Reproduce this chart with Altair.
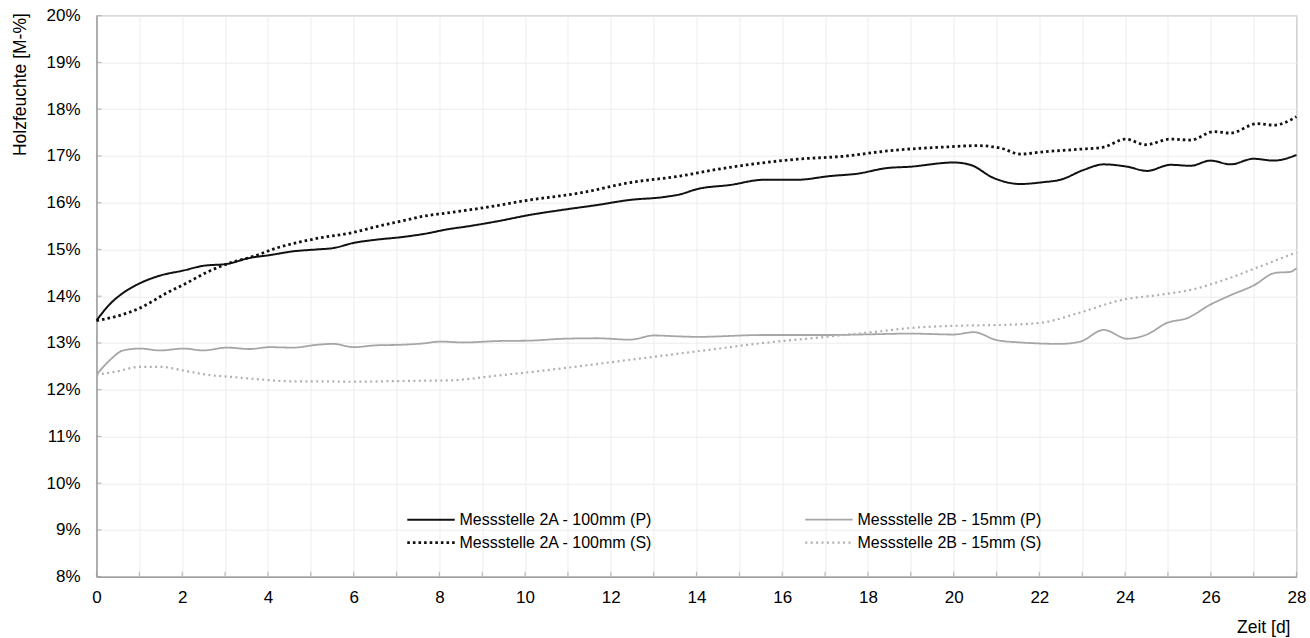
import altair as alt
import pandas as pd

# ---- data ----
series_names = [
    "Messstelle 2A - 100mm (P)",
    "Messstelle 2B - 15mm (P)",
    "Messstelle 2A - 100mm (S)",
    "Messstelle 2B - 15mm (S)",
]

a_p_day = [0, 0.3, 0.62, 1.02, 1.48, 2.03, 2.49, 3.04, 3.58, 4.05, 4.59, 5.14, 5.53, 6.0, 6.54,
           7.08, 7.63, 8.25, 8.56, 9.34, 10.12, 10.9, 11.68, 12.45, 13.23, 13.62, 14.01, 14.79,
           15.57, 16.34, 17.12, 17.75, 18.44, 18.99, 20.0, 20.39, 20.93, 21.56, 22.1, 22.49,
           23.03, 23.5, 24.05, 24.51, 25.06, 25.53, 25.99, 26.46, 27.0, 27.47, 28.0]
a_p_val = [13.48, 13.82, 14.07, 14.28, 14.44, 14.55, 14.65, 14.69, 14.82, 14.88, 14.96, 15.0, 15.03,
           15.14, 15.21, 15.26, 15.33, 15.44, 15.48, 15.6, 15.74, 15.85, 15.95, 16.06, 16.12, 16.18,
           16.29, 16.38, 16.49, 16.49, 16.57, 16.62, 16.74, 16.77, 16.86, 16.81, 16.53, 16.4, 16.44,
           16.49, 16.7, 16.82, 16.77, 16.68, 16.81, 16.79, 16.9, 16.82, 16.94, 16.9, 17.02]

a_s_day = [0, 0.47, 1.02, 1.64, 2.1, 2.57, 3.11, 3.66, 4.2, 4.75, 5.29, 5.92, 6.54, 7.08, 7.63,
           8.25, 8.95, 10.12, 11.29, 12.45, 13.62, 14.4, 15.18, 16.34, 17.51, 18.29, 18.6, 19.77,
           20.55, 21.09, 21.56, 22.1, 22.88, 23.5, 24.01, 24.48, 25.06, 25.53, 26.07, 26.46,
           27.08, 27.47, 28.0]
a_s_val = [13.48, 13.57, 13.75, 14.07, 14.28, 14.51, 14.71, 14.85, 15.03, 15.16, 15.26, 15.35,
           15.49, 15.6, 15.71, 15.79, 15.88, 16.06, 16.21, 16.43, 16.57, 16.7, 16.81, 16.93, 17.0,
           17.09, 17.12, 17.19, 17.22, 17.17, 17.04, 17.09, 17.14, 17.19, 17.36, 17.24, 17.36,
           17.34, 17.52, 17.49, 17.69, 17.66, 17.84]

b_p_day = [0, 0.32, 0.62, 1.02, 1.48, 2.03, 2.49, 3.04, 3.58, 4.05, 4.59, 5.14, 5.53, 6.0, 6.54,
           7.08, 7.63, 8.02, 8.56, 9.34, 10.12, 10.9, 11.68, 12.45, 13.0, 13.6, 14.01, 15.57,
           16.34, 17.12, 17.83, 18.99, 20.0, 20.47, 21.01, 21.56, 22.49, 22.96, 23.5, 24.05,
           24.51, 24.98, 25.45, 25.99, 26.46, 27.0, 27.51, 27.86, 28.0]
b_p_val = [12.32, 12.64, 12.84, 12.88, 12.84, 12.88, 12.84, 12.9, 12.87, 12.91, 12.9, 12.96, 12.98,
           12.91, 12.95, 12.96, 12.99, 13.03, 13.01, 13.04, 13.05, 13.09, 13.1, 13.07, 13.16, 13.14,
           13.13, 13.17, 13.17, 13.17, 13.18, 13.2, 13.18, 13.23, 13.06, 13.01, 12.98, 13.03, 13.28,
           13.09, 13.18, 13.43, 13.53, 13.82, 14.02, 14.23, 14.5, 14.52, 14.6]

b_s_day = [0, 0.47, 1.02, 1.48, 2.03, 2.57, 3.19, 3.81, 4.52, 5.22, 5.92, 6.7, 7.47, 8.25, 9.34,
           10.9, 12.45, 14.01, 15.57, 17.12, 18.29, 18.99, 20.16, 21.32, 22.1, 22.88, 23.97,
           24.82, 25.6, 26.38, 27.16, 28.0]
b_s_val = [12.32, 12.39, 12.49, 12.49, 12.41, 12.32, 12.27, 12.22, 12.18, 12.18, 12.17, 12.18,
           12.19, 12.2, 12.3, 12.46, 12.64, 12.82, 13.0, 13.14, 13.25, 13.32, 13.37, 13.39, 13.44,
           13.63, 13.93, 14.03, 14.15, 14.37, 14.64, 14.94]

x_tick_days = list(range(0, 29))
y_tick_values = list(range(8, 21))

# ---- styles ----
line_colors = ["#111111", "#a6a6a6", "#111111", "#b0b0b0"]
line_dashes = [[1, 0], [1, 0], [2.6, 3.0], [2.0, 3.4]]
line_widths = [2.0, 1.8, 2.8, 2.2]
FONT = "Liberation Sans"

frames = []
for name, d, v in [
    (series_names[0], a_p_day, a_p_val),
    (series_names[2], a_s_day, a_s_val),
    (series_names[1], b_p_day, b_p_val),
    (series_names[3], b_s_day, b_s_val),
]:
    frames.append(pd.DataFrame({"day": d, "value": v, "series": name}))
df = pd.concat(frames, ignore_index=True)

tick_x_df = pd.DataFrame({"day": x_tick_days, "value": [y_tick_values[0]] * len(x_tick_days)})
tick_y_df = pd.DataFrame({"value": y_tick_values, "day": [x_tick_days[0]] * len(y_tick_values)})

x_scale = alt.Scale(domain=[0, 28], nice=False, zero=False)
y_scale = alt.Scale(domain=[8, 20], nice=False, zero=False)

x_axis = alt.Axis(
    values=x_tick_days,
    labelExpr="datum.value % 2 == 0 ? datum.label : ''",
    ticks=False,
    labelPadding=13,
    labelFontSize=17,
    labelFont=FONT,
    labelColor="#000000",
    labelFlush=False,
    domainColor="#a0a0a0",
    domainWidth=1.5,
    gridColor="#ececec",
    gridWidth=1,
    title="Zeit [d]",
    titleFont=FONT,
    titleFontSize=17.5,
    titleFontWeight="normal",
    titleColor="#000000",
    titleAnchor="start",
    titleAlign="right",
    titleBaseline="alphabetic",
    titleX=1193.5,
    titleY=56,
)

y_axis = alt.Axis(
    values=y_tick_values,
    labelExpr="datum.value + '%'",
    ticks=False,
    labelPadding=16.5,
    labelFontSize=17,
    labelFont=FONT,
    labelColor="#000000",
    domainColor="#a0a0a0",
    domainWidth=1.5,
    gridColor="#ececec",
    gridWidth=1,
    title="Holzfeuchte [M-%]",
    titleFont=FONT,
    titleFontSize=17.5,
    titleFontWeight="normal",
    titleColor="#000000",
    titleAngle=270,
    titleAlign="right",
    titleBaseline="alphabetic",
    titleAnchor="start",
    titleX=-71,
    titleY=-3,
)

legend = alt.Legend(
    title=None,
    orient="none",
    direction="horizontal",
    legendX=325,
    legendY=495,
    columns=2,
    columnPadding=148,
    rowPadding=5.5,
    padding=0,
    symbolType="M-3,0H3",
    symbolSize=250,
    labelFontSize=16,
    labelFont=FONT,
    labelColor="#000000",
    labelOffset=19,
    labelLimit=0,
)

lines = alt.Chart(df).mark_line(interpolate="monotone").encode(
    x=alt.X("day:Q", scale=x_scale, axis=x_axis),
    y=alt.Y("value:Q", scale=y_scale, axis=y_axis),
    color=alt.Color("series:N", scale=alt.Scale(domain=series_names, range=line_colors), legend=legend),
    strokeDash=alt.StrokeDash("series:N", scale=alt.Scale(domain=series_names, range=line_dashes), legend=legend),
    strokeWidth=alt.StrokeWidth("series:N", scale=alt.Scale(type="ordinal", domain=series_names, range=line_widths), legend=legend),
    order=alt.Order("day:Q"),
)

xticks = alt.Chart(tick_x_df).mark_tick(
    orient="vertical", size=5, thickness=1.2, color="#a0a0a0", yOffset=-2.5
).encode(
    x=alt.X("day:Q", scale=x_scale),
    y=alt.Y("value:Q", scale=y_scale),
)

yticks = alt.Chart(tick_y_df).mark_tick(
    orient="horizontal", size=5, thickness=1.2, color="#a0a0a0", xOffset=2.5
).encode(
    x=alt.X("day:Q", scale=x_scale),
    y=alt.Y("value:Q", scale=y_scale),
)

chart = alt.layer(xticks, yticks, lines).properties(
    width=1200,
    height=561,
    autosize=alt.AutoSizeParams(type="none"),
    padding={"left": 96.5, "top": 15.7, "right": 13.5, "bottom": 61},
    background="#ffffff",
).configure_view(
    stroke="#a6a6a6",
    strokeWidth=1.2,
)

chart.save("out.html", embed_options={"renderer": "svg", "actions": False})
